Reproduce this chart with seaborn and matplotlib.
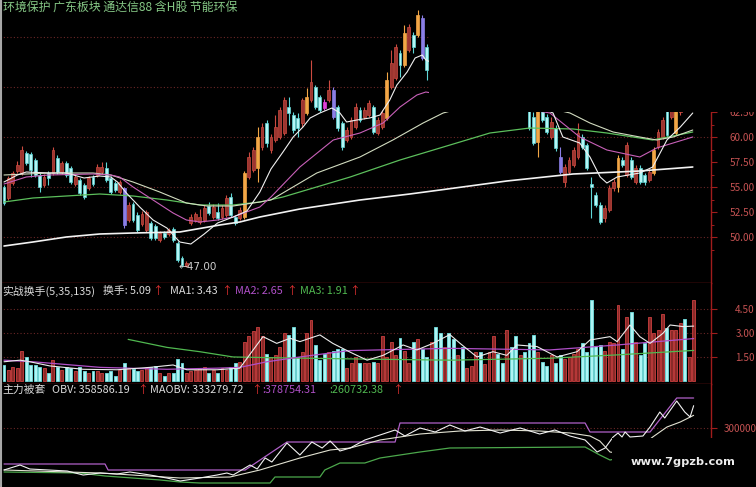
import numpy as np
import matplotlib
matplotlib.use("Agg")
import matplotlib.pyplot as plt
from matplotlib.patches import Rectangle
from matplotlib.lines import Line2D
from matplotlib.ticker import FormatStrFormatter
import seaborn as sns

# ---- daily candles (price units) ----
opens = [55.0, 53.9, 55.4, 56.6, 56.4, 58.4, 58.3, 57.7, 56.2, 55.2,
         56.4, 56.4, 57.9, 56.5, 57.4, 56.9, 55.3, 55.7, 55.2, 54.9,
         56.0, 56.2, 56.5, 56.9, 55.9, 55.4, 54.5, 54.9, 51.7, 53.3,
         52.2, 51.3, 50.7, 51.4, 51.1, 49.7, 50.4, 50.3, 50.8, 49.4,
         47.9, 47.1, 51.4, 51.7, 51.5, 51.7, 53.1, 52.0, 52.5, 52.0,
         52.2, 54.0, 52.0, 51.9, 52.0, 56.0, 56.7, 56.9, 59.0, 61.4,
         58.7, 59.7, 60.0, 60.4, 63.0, 62.2, 61.9, 61.4, 62.4, 63.7,
         65.0, 64.0, 63.5, 63.7, 64.7, 63.0, 61.4, 59.7, 60.0, 61.0,
         62.7, 62.0, 62.2, 63.0, 60.4, 61.0, 61.9, 65.0, 65.9, 68.4,
         67.2, 68.7, 70.2, 70.2, 71.9, 69.0, 66.5, 67.5, 66.0, 64.5,
         65.5, 64.2, 63.6, 64.8, 64.0, 64.6, 65.2, 65.8, 65.1, 66.0,
         66.8, 67.2, 66.0, 65.0, 65.8, 64.6, 63.8, 64.4, 63.5, 62.0,
         59.5, 63.5, 62.0, 60.0, 60.9, 58.0, 55.5, 56.5, 57.2, 58.0,
         60.0, 59.2, 55.3, 54.2, 53.2, 51.9, 52.7, 54.9, 55.0, 57.7,
         56.2, 57.7, 55.5, 56.9, 56.2, 55.7, 56.4, 59.0, 60.0, 63.0,
         62.0, 60.4, 62.5, 64.0, 63.0, 63.5]
closes = [53.4, 55.9, 56.4, 57.2, 58.7, 57.4, 56.7, 56.2, 55.0, 56.0,
          55.9, 58.7, 56.5, 57.4, 56.2, 55.5, 56.0, 54.4, 54.0, 55.9,
          55.3, 57.0, 57.0, 55.7, 54.5, 54.7, 55.5, 51.2, 53.2, 51.7,
          50.7, 52.3, 52.5, 49.9, 49.9, 50.4, 50.0, 50.7, 49.7, 47.7,
          47.2, 47.4, 52.0, 52.3, 52.0, 52.9, 52.4, 53.0, 51.9, 52.9,
          53.9, 52.2, 51.4, 52.7, 56.4, 58.0, 58.7, 60.0, 61.0, 59.4,
          60.0, 61.0, 62.7, 63.7, 62.4, 60.7, 60.9, 63.7, 64.0, 65.5,
          63.0, 62.7, 62.9, 64.7, 62.0, 60.9, 59.0, 60.7, 61.7, 63.0,
          61.7, 62.7, 63.4, 60.5, 61.7, 62.4, 65.7, 67.4, 69.0, 67.2,
          70.4, 71.0, 69.0, 72.2, 67.9, 66.7, 67.5, 66.0, 64.5, 65.5,
          64.2, 63.6, 64.8, 64.0, 64.6, 65.2, 65.8, 65.1, 66.0, 66.8,
          67.2, 66.0, 65.0, 65.8, 64.6, 63.8, 64.4, 63.5, 60.9, 59.4,
          63.3, 61.7, 60.5, 61.5, 58.9, 56.5, 57.0, 57.7, 58.7, 60.4,
          59.0, 56.9, 55.0, 53.2, 51.5, 52.9, 54.9, 55.5, 57.9, 57.2,
          59.2, 56.0, 56.9, 55.5, 55.5, 56.5, 58.7, 60.5, 61.7, 60.2,
          63.3, 63.5, 64.0, 63.0, 64.2, 65.0]
highs = [55.2, 56.1, 56.6, 57.6, 59.1, 58.6, 58.5, 57.9, 56.4, 56.3,
         56.6, 59.0, 58.2, 57.6, 57.6, 57.1, 56.2, 55.9, 55.4, 56.1,
         56.2, 57.3, 57.5, 57.5, 56.1, 55.6, 55.7, 55.0, 53.5, 53.5,
         52.5, 52.6, 52.7, 51.6, 51.3, 50.6, 50.6, 50.9, 51.0, 49.6,
         48.1, 47.6, 52.3, 52.5, 52.8, 53.2, 53.5, 53.3, 53.4, 53.2,
         54.2, 54.4, 52.2, 53.0, 56.6, 58.5, 59.0, 61.0, 61.4, 61.7,
         60.3, 62.2, 63.0, 64.0, 64.0, 62.5, 62.4, 63.9, 64.9, 67.7,
         65.2, 64.2, 63.8, 65.7, 65.0, 63.2, 61.6, 61.0, 62.0, 63.4,
         63.0, 63.0, 63.7, 63.2, 62.0, 62.7, 66.5, 68.7, 69.3, 68.7,
         71.2, 71.3, 70.5, 72.7, 72.2, 69.3, 67.8, 67.8, 66.3, 65.8,
         65.8, 64.5, 65.1, 65.1, 64.9, 65.5, 66.1, 66.1, 66.3, 67.1,
         67.5, 67.5, 66.3, 66.1, 66.1, 64.9, 64.7, 64.7, 64.0, 62.5,
         64.0, 64.0, 62.3, 62.0, 61.2, 59.0, 57.3, 58.0, 59.0, 61.4,
         60.3, 59.4, 56.0, 54.5, 53.5, 53.2, 55.2, 55.8, 58.2, 58.0,
         59.5, 58.0, 57.2, 57.2, 56.4, 56.8, 59.0, 60.8, 62.0, 63.5,
         63.8, 64.0, 64.3, 64.4, 64.5, 65.4]
lows = [53.2, 53.7, 55.2, 56.4, 56.2, 57.2, 56.0, 56.0, 54.5, 55.0,
        55.2, 56.2, 56.3, 56.3, 56.0, 55.3, 55.1, 54.2, 53.8, 54.7,
        55.1, 56.0, 56.3, 55.5, 54.3, 54.5, 54.3, 50.9, 51.5, 51.5,
        50.5, 51.1, 50.5, 49.7, 49.7, 49.5, 49.8, 50.1, 49.5, 47.5,
        47.0, 47.0, 51.2, 51.5, 51.3, 51.5, 52.2, 51.8, 51.7, 51.8,
        52.0, 52.0, 51.2, 51.7, 51.8, 55.8, 56.5, 55.5, 58.7, 59.0,
        58.4, 59.5, 59.8, 60.2, 61.2, 60.4, 60.0, 61.0, 62.2, 63.5,
        62.8, 62.5, 62.7, 63.5, 61.8, 60.6, 58.7, 59.5, 59.8, 60.8,
        61.5, 61.8, 62.0, 60.3, 60.2, 60.8, 61.7, 64.8, 65.7, 66.0,
        67.0, 68.5, 68.4, 70.0, 67.7, 65.7, 66.2, 65.7, 64.2, 64.2,
        63.9, 63.3, 63.3, 63.7, 63.7, 64.3, 64.9, 64.8, 64.8, 65.7,
        66.5, 65.7, 64.7, 64.7, 64.3, 63.5, 63.5, 63.2, 60.7, 59.2,
        58.0, 61.5, 60.3, 59.8, 58.6, 56.3, 55.0, 56.3, 57.0, 57.8,
        58.8, 56.7, 51.9, 53.0, 51.3, 51.5, 52.5, 54.6, 54.5, 57.0,
        56.0, 55.8, 55.3, 55.3, 55.2, 55.5, 56.2, 58.8, 59.8, 60.0,
        61.8, 60.2, 62.2, 62.8, 62.8, 63.2]
orange_days = [54, 57, 68, 86, 90, 93, 120, 138, 146, 151]
purple_days = [27, 74, 94, 125]
magenta_days = [72]

# turnover (volume panel)
turnover = [1.0, 0.7, 0.9, 0.8, 1.9, 1.5, 1.0, 1.0, 0.9, 0.8,
            0.5, 1.3, 0.9, 0.7, 0.9, 0.8, 0.6, 0.85, 0.6, 0.5,
            0.65, 0.6, 0.5, 0.5, 0.6, 0.3, 0.7, 1.15, 0.8, 0.73,
            0.6, 0.7, 0.8, 0.85, 0.94, 0.5, 0.3, 0.5, 0.5, 1.4,
            1.1, 0.5, 0.6, 0.7, 0.8, 0.85, 0.5, 0.7, 0.5, 0.8,
            0.7, 0.85, 1.15, 1.2, 2.45, 2.8, 3.1, 3.4, 2.8, 1.7,
            1.5, 1.6, 2.15, 3.0, 2.9, 3.4, 1.5, 1.8, 3.0, 3.8,
            2.25, 1.3, 1.7, 1.8, 1.9, 2.0, 2.0, 0.8,
            1.1, 1.5, 1.1, 1.1, 1.1, 1.2, 1.1, 2.8, 1.5, 2.45,
            1.6, 2.7, 1.9, 1.1, 2.45, 2.65, 2.0, 1.5, 2.45, 3.4,
            3.0, 2.15, 3.0, 2.65, 1.6, 2.15, 0.8, 0.94, 1.8, 1.8,
            1.06, 1.8, 2.8, 1.7, 1.15, 3.2, 2.15, 2.8, 1.6, 1.8,
            2.35, 2.9, 1.8, 1.2, 0.94, 1.6, 1.1, 1.6, 1.4, 1.5,
            1.7, 2.0, 2.35, 1.8, 5.06, 2.2, 2.25, 1.9, 2.45, 2.35,
            4.75, 2.0, 4.0, 4.3, 2.45, 1.6, 2.35, 4.0, 3.0,
            3.2, 4.2, 3.3, 3.2, 3.2, 3.6, 3.85, 1.5, 5.09]

# moving average lines of the price panel (candle index, price)
ma5_x = [0, 3, 5, 10, 14, 18, 21.5, 24, 25.5, 27.5, 30.5, 33.5, 36.6, 39.5, 42,
         45, 48, 51.5, 54.6, 57.5, 60, 62.7, 65, 67.2, 68.8, 71, 73.7, 75.5, 77,
         79.3, 82.2, 84.5, 86.7, 88.3, 90.6, 92.4, 94, 94.8, 123.4, 125.6, 129.4,
         131.7, 134, 135.5, 137.8, 142.9, 145.8, 149, 152, 154.8]
ma5_y = [55.5, 56.2, 56.5, 56.4, 56.4, 55.9, 56.1, 56.0, 55.5, 54.4, 53.0, 51.7,
         50.9, 49.5, 49.3, 50.3, 51.4, 52.0, 52.6, 54.5, 56.8, 58.5, 60.0, 61.0,
         61.9, 62.4, 62.9, 62.4, 61.5, 61.7, 61.9, 62.2, 63.7, 65.2, 66.5, 67.9,
         68.2, 67.7, 62.4, 60.0, 59.4, 58.0, 56.0, 55.4, 56.0, 56.4, 57.0, 59.7,
         61.0, 62.4]
ma10_x = [0, 5, 10, 20, 24, 26, 29, 33.5, 38, 41, 44, 48, 51.5, 57.5, 60, 66.5,
          74, 80, 85.2, 89, 92.8, 94.8, 122.7, 129.4, 135.5, 142.9, 146.7, 154.8]
ma10_y = [55.3, 56.0, 56.2, 56.3, 56.2, 56.0, 55.0, 53.7, 52.4, 51.7, 51.5, 51.7,
          52.0, 53.0, 54.0, 57.0, 59.7, 60.4, 61.4, 63.0, 64.2, 64.5, 62.4, 60.0,
          58.7, 58.0, 58.9, 60.0]
ma30_x = [0, 10, 20, 24, 29, 35, 41, 45.6, 51.5, 57.5, 60, 70.3, 80, 87.4, 94.2,
          98.7, 112, 127.2, 131.7, 136.9, 142.9, 146.7, 150.4, 154.8]
ma30_y = [56.2, 56.4, 56.4, 56.2, 55.5, 54.5, 53.4, 53.1, 53.1, 53.5, 53.7, 56.4,
          58.0, 59.7, 61.4, 62.4, 64.0, 62.4, 61.4, 60.5, 60.0, 59.7, 60.0, 60.7]
ma60_x = [0, 6.5, 14, 21.5, 29, 36.6, 44, 51.5, 57.5, 62.7, 77.8, 89, 98, 109.2,
          118.2, 127.9, 135.5, 145.8, 154.8]
ma60_y = [53.5, 53.9, 54.1, 54.3, 54.1, 53.7, 53.2, 53.2, 53.5, 54.0, 56.0, 57.7,
          58.9, 60.4, 60.9, 60.8, 60.4, 59.7, 60.5]
ma135_x = [0, 6.5, 14, 21.5, 29, 39.5, 48.5, 53, 57.5, 66.5, 80, 91.2, 98, 113,
           127.9, 142.9, 154.8]
ma135_y = [49.1, 49.5, 50.0, 50.3, 50.4, 50.5, 51.2, 51.5, 52.0, 52.8, 53.7, 54.3,
           54.7, 55.6, 56.3, 56.6, 57.0]

# turnover averages
v5_x = [0, 3.6, 5.8, 10.3, 17.8, 25.4, 32.8, 38, 41.1, 47.9, 53, 56, 58.2, 61.3,
        64.3, 66.5, 71, 73.9, 77.8, 81.6, 85.2, 89.7, 92.8, 96.4, 100.2, 102.5,
        106.3, 109.9, 113, 115.3, 119.8, 124.3, 128.8, 131.7, 136.2, 137.8, 140.7,
        142.9, 145.2, 148.1, 149.7, 152.6, 155]
v5_y = [1.2, 1.3, 1.2, 0.94, 0.73, 0.7, 0.85, 1.0, 0.7, 0.7, 0.8, 1.94, 2.77, 2.35,
        2.67, 2.46, 2.88, 2.35, 1.8, 1.3, 1.6, 2.25, 1.94, 2.35, 2.9, 2.35, 1.5,
        1.83, 1.6, 2.25, 2.15, 1.5, 1.83, 2.56, 2.77, 2.46, 3.5, 2.77, 2.35, 2.98,
        3.5, 3.4, 3.43]
v35_x = [0, 6.5, 21.6, 36.6, 47.9, 53, 59.1, 66.5, 73.9, 77.8, 100.2, 122.7, 137.8, 155]
v35_y = [1.3, 1.2, 0.85, 0.73, 0.8, 0.85, 1.2, 1.5, 1.77, 1.9, 2.04, 1.94, 2.25, 2.65]
v135_x = [27.9, 36.6, 44, 51.5, 59.1, 77.8, 100.2, 122.7, 137.8, 155]
v135_y = [2.6, 2.1, 1.83, 1.5, 1.46, 1.38, 1.3, 1.42, 1.63, 1.91]

# OBV panel
obv_x = [0, 3.6, 5.8, 14.2, 17.8, 21.6, 25.4, 28.3, 32.8, 36.6, 39.6, 44, 47.9,
         50.1, 51.5, 55.3, 56.9, 58.7, 60.2, 63.6, 66.5, 69.2, 71.5, 73.3, 75.5,
         77.8, 81.1, 84.5, 87.9, 90.1, 93.5, 96.9, 100.2, 103.6, 107, 111.5, 116,
         120.4, 123.8, 127.2, 130.6, 133.3, 135.1, 136.9, 138, 138.9, 139.6, 140.7,
         143.6, 145.2, 147.4, 148.5, 151.2, 153, 154.2, 155]
obv_y = [189750, 202875, 192375, 187125, 176625, 181875, 179250, 184500, 176625,
         168750, 160875, 168750, 176625, 181875, 176625, 202875, 192375, 221250,
         210750, 260625, 229125, 263250, 247500, 265875, 239625, 247500, 268500,
         281625, 294750, 279000, 300000, 289500, 307875, 292125, 302625, 286875,
         300000, 284250, 294750, 279000, 268500, 237000, 247500, 276375, 286875,
         276375, 289500, 276375, 279000, 302625, 342000, 326250, 370875, 342000,
         328875, 358586]
maobv_x = [0, 21.6, 39.6, 50.8, 57.5, 66.5, 73.3, 77.8, 84.5, 93.5, 102.5, 111.5,
           120.4, 127.2, 131.7, 133.9, 136.2, 140.7, 145.8, 149, 152, 155]
maobv_y = [189750, 181875, 168750, 171375, 189750, 221250, 242250, 247500, 268500,
           284250, 292125, 294750, 292125, 286875, 279000, 265875, 237000, 229125,
           276375, 302625, 315750, 333280]
obv_top_x = [0, 22.7, 23.4, 54.2, 63.6, 87.9, 89, 130.6, 131.7, 145.2, 151.2, 155]
obv_top_y = [205500, 205500, 189750, 189750, 263250, 263250, 313125, 313125,
             289500, 289500, 378754, 378754]
obv_bot_x = [0, 17.1, 22.7, 35.1, 39.6, 44, 59.8, 60.9, 71, 72.1, 75.5, 81.1, 84.5,
             93.5, 100.2, 130.6, 133.9, 136.2, 145, 155]
obv_bot_y = [184500, 181875, 174000, 163500, 158250, 155625, 155625, 171375, 171375,
             189750, 208125, 208125, 221250, 237000, 247500, 250125, 229125, 216000,
             237000, 260732]

title = "环境保护 广东板块 通达信88 含H股 节能环保"

# ---- colours ----
FRAME = "#a01c1c"
GRID = "#6a2626"
LABEL = "#c45252"
UP_FILL, UP_EDGE = "#9c3530", "#cc4a40"
DN_FILL, DN_EDGE = "#b4f6f6", "#5fd6d6"
ORANGE = "#f2a646"
PURPLE_K = "#8a7ee6"
MAGENTA = "#e040d8"
WHITE = "#dcdcdc"
PURPLE = "#b050c8"
GREEN = "#50b850"
ARROW = "#e03030"

sns.set_style("dark")
plt.rcParams["font.family"] = ["Noto Sans CJK SC", "DejaVu Sans"]
plt.rcParams["axes.unicode_minus"] = False

W, H = 756, 487
fig = plt.figure(figsize=(W / 100, H / 100), dpi=100, facecolor="black")


def panel(top, bottom):
    return fig.add_axes([0, 1 - bottom / H, 711 / W, (bottom - top) / H])


ax_k = panel(0, 283)
ax_v = panel(283, 384)
ax_o = panel(384, 487)

for ax in (ax_k, ax_v, ax_o):
    ax.set_facecolor("black")
    ax.set_xlim(-0.9, 158.9)
    ax.set_xticks([])
    ax.grid(False)
    for side in ("left", "top", "bottom"):
        ax.spines[side].set_visible(False)
    ax.spines["right"].set_color(FRAME)
    ax.spines["right"].set_linewidth(1.0)
    ax.yaxis.tick_right()
for ax in (ax_k, ax_v):
    ax.spines["bottom"].set_visible(True)
    ax.spines["bottom"].set_color(FRAME)
    ax.spines["bottom"].set_linewidth(1.0)

# ---- candles ----
o = np.array(opens)
c = np.array(closes)
idx = np.arange(len(o))
up = c >= o
face = np.where(up, UP_FILL, DN_FILL).astype(object)
edge = np.where(up, UP_EDGE, DN_EDGE).astype(object)
for i in orange_days:
    face[i] = edge[i] = ORANGE
for i in purple_days:
    face[i] = edge[i] = PURPLE_K
for i in magenta_days:
    face[i] = edge[i] = MAGENTA

ax_k.set_ylim(45.4, 73.7)
for lvl in np.arange(50, 71, 5):
    ax_k.axhline(lvl, color=GRID, lw=0.8, ls=(0, (1, 2)), zorder=0.5)
ax_k.vlines(idx, lows, highs, colors=list(edge), linewidth=0.8, zorder=2)
ax_k.bar(idx, np.maximum(np.abs(c - o), 0.08), bottom=np.minimum(o, c), width=0.64,
         color=list(face), edgecolor=list(edge), linewidth=0.5, zorder=3)

for xs, ys, col, lw in [(ma135_x, ma135_y, "#f2f2f2", 1.2),
                        (ma60_x, ma60_y, "#5cbf5c", 0.9),
                        (ma30_x, ma30_y, "#d2dcc0", 0.8),
                        (ma10_x, ma10_y, "#c860b8", 0.8),
                        (ma5_x, ma5_y, "#f0f0f0", 0.8)]:
    sns.lineplot(x=xs, y=ys, ax=ax_k, color=col, linewidth=lw,
                 estimator=None, sort=False, zorder=4)
ax_k.text(39.2, 46.95, "←47.00", color="#cfcfcf", fontsize=7.5, va="center",
          ha="left", family=["DejaVu Sans"], zorder=5)

ax_k.set_yticks(np.arange(50, 72.6, 2.5))
ax_k.set_yticks(np.arange(48.75, 72.6, 2.5), minor=True)
ax_k.yaxis.set_major_formatter(FormatStrFormatter("%.2f"))

# ---- turnover ----
vface = np.where(up, "#8a2a28", "#aef4f4")
vedge = np.where(up, "#cc4040", "#70e0e0")
ax_v.set_ylim(-0.19, 6.125)
for lvl in (1.5, 3.0, 4.5):
    ax_v.axhline(lvl, color=GRID, lw=0.8, ls=(0, (1, 2)), zorder=0.5)
ax_v.bar(idx, turnover, width=0.66, color=list(vface), edgecolor=list(vedge),
         linewidth=0.6, zorder=2)
for xs, ys, col, lw in [(v135_x, v135_y, GREEN, 0.9),
                        (v35_x, v35_y, PURPLE, 0.9),
                        (v5_x, v5_y, "#ececec", 0.8)]:
    sns.lineplot(x=xs, y=ys, ax=ax_v, color=col, linewidth=lw,
                 estimator=None, sort=False, zorder=4)
ax_v.set_yticks([1.5, 3.0, 4.5])
ax_v.yaxis.set_major_formatter(FormatStrFormatter("%.2f"))

# ---- OBV ----
ax_o.set_ylim(145125, 415500)
ax_o.axhline(300000, color=GRID, lw=0.8, ls=(0, (1, 2)), zorder=0.5)
for xs, ys, col, lw in [(obv_bot_x, obv_bot_y, "#4ca84c", 0.9),
                        (obv_top_x, obv_top_y, "#b060c8", 0.9),
                        (maobv_x, maobv_y, "#e2e2d2", 0.8),
                        (obv_x, obv_y, "#f2f2f2", 0.8)]:
    sns.lineplot(x=xs, y=ys, ax=ax_o, color=col, linewidth=lw,
                 estimator=None, sort=False, zorder=4)
ax_o.set_yticks([300000])
ax_o.yaxis.set_major_formatter(FormatStrFormatter("%d"))

# right axis labels
for ax in (ax_k, ax_v):
    ax.tick_params(axis="y", which="major", length=4, width=0.8, color=FRAME,
                   labelcolor=LABEL, labelsize=7.2, pad=27.5, direction="out")
    for t in ax.get_yticklabels():
        t.set_horizontalalignment("right")
ax_k.tick_params(axis="y", which="minor", length=2, width=0.7, color=FRAME)
ax_o.tick_params(axis="y", length=4, width=0.8, color=FRAME, labelcolor=LABEL,
                 labelsize=7.2, pad=5.5, direction="out")
for ax in (ax_k, ax_v, ax_o):
    ax.set_xlabel("")
    ax.set_ylabel("")


def ftext(x, y, s, color, size=7.8, va="center"):
    fig.text(x / W, 1 - y / H, s, color=color, fontsize=size, va=va, ha="left")


# panel headers
for x, s, col in [(2, "实战换手(5,35,135)", WHITE), (103, "换手: 5.09", WHITE),
                  (152, "↑", ARROW), (170, "MA1: 3.43", WHITE), (221, "↑", ARROW),
                  (235, "MA2: 2.65", PURPLE), (286, "↑", ARROW),
                  (300, "MA3: 1.91", GREEN), (349, "↑", ARROW)]:
    ftext(x, 291, s, col)
for x, s, col in [(2, "主力被套", WHITE), (52, "OBV: 358586.19", WHITE),
                  (137, "↑", ARROW), (150, "MAOBV: 333279.72", WHITE),
                  (251, "↑", ARROW), (262, ":378754.31", PURPLE),
                  (329, ":260732.38", GREEN), (392, "↑", ARROW)]:
    ftext(x, 390, s, col)

ftext(3, 0.5, title, "#86c886", size=8.6, va="top")

# black patch covering the top right of the screenshot
fig.add_artist(Rectangle((429 / W, 1 - 112 / H), 1 - 429 / W, 112 / H,
                         transform=fig.transFigure, facecolor="black",
                         edgecolor="none", zorder=20))
# watermark box
fig.add_artist(Rectangle((612 / W, 0), 1 - 612 / W, (H - 438) / H,
                         transform=fig.transFigure, facecolor="black",
                         edgecolor="none", zorder=20))
fig.text(683 / W, 1 - 462 / H, "www.7gpzb.com", color="#ececec", fontsize=8.2,
         fontweight="bold", family=["DejaVu Sans"], ha="center", va="center",
         zorder=21)
fig.add_artist(Line2D([1 / W, 1 / W], [0, 1], transform=fig.transFigure,
                      color="#a8a8a8", lw=1.5, zorder=25))

fig.savefig("out.png", dpi=100, facecolor="black")
